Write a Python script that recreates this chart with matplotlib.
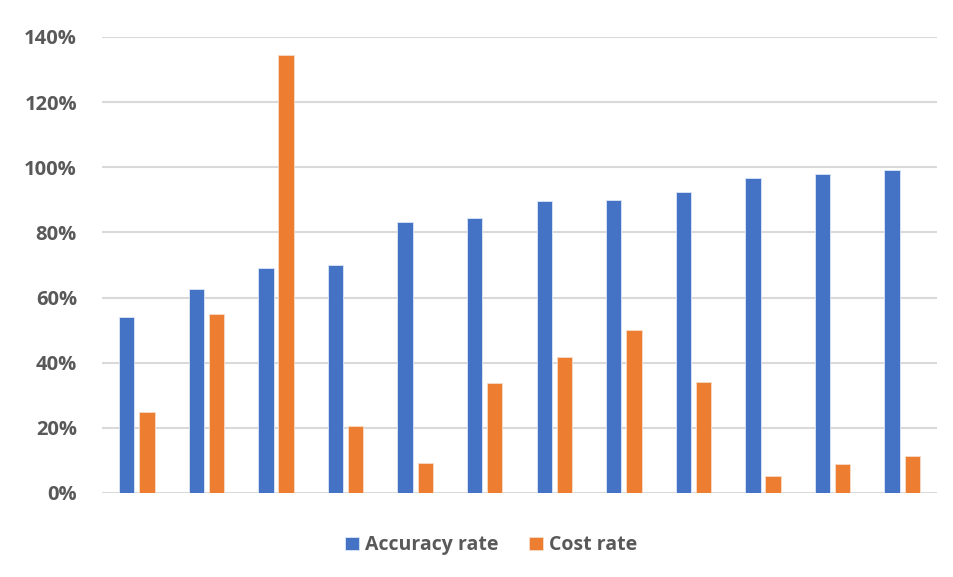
import numpy as np
import matplotlib.pyplot as plt
from matplotlib.ticker import PercentFormatter

groups = np.arange(12)
accuracy_rate = [53.9, 62.7, 69.2, 70.1, 83.2, 84.5, 89.5, 90.1, 92.3, 96.8, 98.0, 99.2]
cost_rate = [24.9, 55.1, 134.4, 20.5, 9.1, 33.8, 41.7, 50.1, 34.1, 5.1, 9.0, 11.4]
yticks = [0, 20, 40, 60, 80, 100, 120, 140]

blue = '#4472C4'
orange = '#ED7D31'
text_color = '#595959'
grid_color = '#D9D9D9'

plt.rcParams['font.family'] = ['Open Sans', 'DejaVu Sans']
plt.rcParams['font.weight'] = 'bold'

fig = plt.figure(figsize=(9.54, 5.77), dpi=100)
ax = fig.add_axes([0.1069, 0.1456, 0.8753, 0.7903])

w = 0.22
ax.bar(groups - 0.145, accuracy_rate, width=w, color=blue, label='Accuracy rate',
       edgecolor='#DCE6F5', linewidth=0.6, zorder=3)
ax.bar(groups + 0.145, cost_rate, width=w, color=orange, label='Cost rate',
       edgecolor='#F8DCC8', linewidth=0.6, zorder=3)

ax.set_xlim(-0.5, 11.5)
ax.set_ylim(0, 140)
ax.set_yticks(yticks)
ax.yaxis.set_major_formatter(PercentFormatter(decimals=0))
ax.set_xticks([])
ax.grid(axis='y', color=grid_color, linewidth=1.5, zorder=0)
for s in ax.spines.values():
    s.set_visible(False)
ax.tick_params(axis='y', length=0, pad=18, labelsize=14.5, labelcolor=text_color)

ax.legend(loc='center', bbox_to_anchor=(0.466, -0.115), ncol=2, frameon=False,
          handlelength=0.7, handleheight=0.7, handletextpad=0.3, columnspacing=1.6,
          prop={'size': 14, 'weight': 'bold'}, labelcolor=text_color)

fig.savefig('out.png', dpi=100)
